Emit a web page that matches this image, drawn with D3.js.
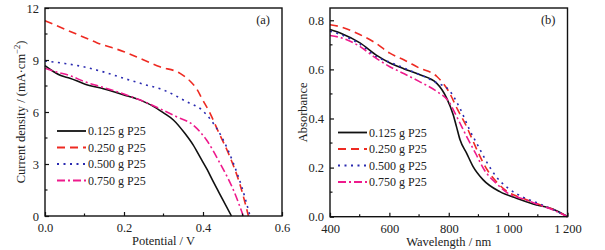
<!DOCTYPE html>
<html><head><meta charset="utf-8">
<script src="https://cdn.jsdelivr.net/npm/d3@7/dist/d3.min.js"></script>
<style>body{margin:0;background:#fff}svg{display:block}text{font-family:"Liberation Serif","Times New Roman",serif;fill:#222}</style>
</head><body><svg id="c" width="605" height="250"></svg>
<script>
// ---- Data ----
const seriesNames = ["0.125 g P25", "0.250 g P25", "0.500 g P25", "0.750 g P25"];
// Panel (a): J-V curves, [V, J]
const jv125 = [[0,8.67],[0.02,8.35],[0.04,8.1],[0.063,7.95],[0.1,7.62],[0.15,7.33],[0.198,7.0],[0.24,6.7],[0.283,6.21],[0.3,5.95],[0.325,5.54],[0.354,4.77],[0.375,4.1],[0.392,3.42],[0.41,2.7],[0.426,1.98],[0.45,0.95],[0.472,0]];
const jv250 = [[0,11.27],[0.05,10.78],[0.1,10.3],[0.131,10.0],[0.2,9.48],[0.25,9.0],[0.291,8.61],[0.342,8.23],[0.367,7.79],[0.385,7.3],[0.397,6.79],[0.418,5.92],[0.439,4.86],[0.468,3.42],[0.494,1.79],[0.515,0]];
const jv500 = [[0,8.94],[0.05,8.8],[0.097,8.61],[0.15,8.3],[0.2,7.94],[0.25,7.6],[0.3,7.27],[0.359,6.59],[0.397,6.12],[0.426,5.35],[0.447,4.58],[0.477,3.04],[0.498,1.69],[0.519,0]];
const jv750 = [[0,8.52],[0.03,8.3],[0.063,8.1],[0.1,7.75],[0.15,7.4],[0.198,7.05],[0.24,6.7],[0.283,6.27],[0.333,5.73],[0.375,5.25],[0.409,4.38],[0.443,3.04],[0.477,1.5],[0.502,0]];
// Panel (b): absorbance spectra, [wavelength nm, A]
const ab125 = [[400,0.762],[440,0.745],[501,0.708],[560,0.655],[602,0.626],[650,0.602],[703,0.578],[759,0.544],[793,0.483],[815,0.415],[826,0.367],[838,0.313],[860,0.259],[882,0.204],[916,0.15],[972,0.102],[1028,0.075],[1084,0.052],[1152,0.03],[1200,0]];
const ab250 = [[400,0.782],[440,0.772],[500,0.742],[550,0.71],[600,0.667],[650,0.638],[700,0.606],[760,0.571],[800,0.51],[830,0.436],[860,0.367],[880,0.313],[900,0.259],[930,0.19],[960,0.143],[1000,0.1],[1050,0.075],[1100,0.052],[1150,0.03],[1200,0]];
const ab500 = [[400,0.755],[440,0.74],[500,0.703],[560,0.648],[600,0.63],[650,0.605],[700,0.58],[760,0.545],[800,0.517],[840,0.436],[870,0.354],[900,0.286],[930,0.218],[960,0.163],[1000,0.116],[1050,0.08],[1100,0.055],[1150,0.03],[1200,0]];
const ab750 = [[400,0.738],[440,0.728],[500,0.694],[550,0.65],[600,0.612],[650,0.582],[700,0.551],[760,0.51],[800,0.469],[830,0.4],[860,0.327],[890,0.259],[920,0.19],[960,0.136],[1000,0.095],[1050,0.072],[1100,0.05],[1150,0.028],[1200,0]];
const ticksA_x = [0, 0.2, 0.4, 0.6];
const ticksA_y = [0, 3, 6, 9, 12];
const ticksB_x = [400, 600, 800, 1000, 1200];
const ticksB_y = [0, 0.2, 0.4, 0.6, 0.8];

// ---- Styles ----
const styles = [
  {color:"#111111", dash:null},
  {color:"#ee2a22", dash:"8,5"},
  {color:"#2a2ab0", dash:"2,4.5"},
  {color:"#ee1a8c", dash:"8,3,2,3"}
];

const svg = d3.select("#c");

function panel(o){
  const g = svg.append("g");
  const x = d3.scaleLinear().domain(o.xd).range([o.x0,o.x1]);
  const y = d3.scaleLinear().domain(o.yd).range([o.y1,o.y0]);
  const line = d3.line().x(d=>x(d[0])).y(d=>y(d[1])).curve(d3.curveMonotoneX);
  o.series.forEach((s,i)=>{
    g.append("path").datum(s).attr("d",line).attr("fill","none")
      .attr("stroke",styles[i].color).attr("stroke-width",1.6)
      .attr("stroke-dasharray",styles[i].dash);
  });
  // frame
  g.append("rect").attr("x",o.x0).attr("y",o.y0).attr("width",o.x1-o.x0).attr("height",o.y1-o.y0)
    .attr("fill","none").attr("stroke","#111").attr("stroke-width",1.4);
  // axes (ticks inward)
  const xa = d3.axisBottom(x).tickValues(o.xt).tickSize(-4).tickPadding(7).tickFormat(o.xf);
  const ya = d3.axisLeft(y).tickValues(o.yt).tickSize(-4).tickPadding(6).tickFormat(o.yf);
  const gx = g.append("g").attr("transform",`translate(0,${o.y1})`).call(xa);
  const gy = g.append("g").attr("transform",`translate(${o.x0},0)`).call(ya);
  [gx,gy].forEach(a=>{a.select(".domain").remove();a.selectAll("line").attr("stroke","#111").attr("stroke-width",1.2);
    a.selectAll("text").attr("font-size",12.5).attr("fill","#222").style("font-family","Liberation Serif");});
  // minor ticks
  const xm = o.xt.slice(0,-1).map((v,i)=>(v+o.xt[i+1])/2);
  const ym = o.yt.slice(0,-1).map((v,i)=>(v+o.yt[i+1])/2);
  g.selectAll(".mx").data(xm).enter().append("line").attr("x1",d=>x(d)).attr("x2",d=>x(d))
    .attr("y1",o.y1).attr("y2",o.y1-2.5).attr("stroke","#111").attr("stroke-width",1.2);
  g.selectAll(".my").data(ym).enter().append("line").attr("y1",d=>y(d)).attr("y2",d=>y(d))
    .attr("x1",o.x0).attr("x2",o.x0+2.5).attr("stroke","#111").attr("stroke-width",1.2);
  // axis titles
  g.append("text").attr("x",(o.x0+o.x1)/2).attr("y",o.y1+29).attr("text-anchor","middle")
    .attr("font-size",12.5).text(o.xlabel);
  const yt = g.append("text").attr("transform",`translate(${o.ylx},${(o.y0+o.y1)/2}) rotate(-90)`)
    .attr("text-anchor","middle").attr("font-size",12.5);
  o.ylabel(yt);
  // panel label
  g.append("text").attr("x",o.x1-12).attr("y",o.y0+16).attr("text-anchor","end").attr("font-size",12.5).text(o.tag);
  // legend
  seriesNames.forEach((n,i)=>{
    const ly = o.legY + i*16.5;
    g.append("line").attr("x1",o.legX).attr("x2",o.legX+29).attr("y1",ly).attr("y2",ly)
      .attr("stroke",styles[i].color).attr("stroke-width",1.8).attr("stroke-dasharray",styles[i].dash);
    g.append("text").attr("x",o.legX+31).attr("y",ly+4).attr("font-size",12).text(n);
  });
}

panel({x0:45,x1:282,y0:8,y1:216,xd:[0,0.6],yd:[0,12],series:[jv125,jv250,jv500,jv750],
  xt:ticksA_x,yt:ticksA_y,xf:d3.format(".1f"),yf:d3.format("d"),
  xlabel:"Potential / V",ylx:25,tag:"(a)",legX:57,legY:131,
  ylabel:t=>{t.append("tspan").text("Current density / (mA·cm");
    t.append("tspan").attr("font-size",8.5).attr("dy",-5).text("−2");
    t.append("tspan").attr("dy",5).text(")");}
});
panel({x0:330,x1:567.5,y0:8,y1:216.7,xd:[400,1200],yd:[0,0.85],series:[ab125,ab250,ab500,ab750],
  xt:ticksB_x,yt:ticksB_y,xf:d=>d>=1000?String(d).replace(/(\d)(\d{3})$/,"$1\u2009$2"):String(d),yf:d3.format(".1f"),
  xlabel:"Wavelength / nm",ylx:307,tag:"(b)",legX:338,legY:132.5,
  ylabel:t=>t.text("Absorbance")
});
</script></body></html>
